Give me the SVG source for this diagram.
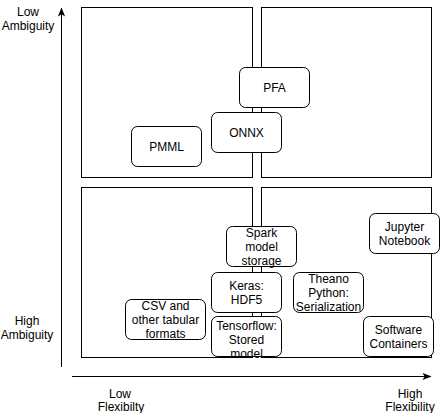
<svg xmlns="http://www.w3.org/2000/svg" width="440" height="413" viewBox="0 0 440 413">
<defs>
<style>
.q{fill:#fff;stroke:#000;stroke-width:1}
.b{fill:#fff;stroke:#000;stroke-width:1}
.ax{stroke:#000;stroke-width:1;fill:none}
text{font-family:"Liberation Sans",Arial,sans-serif;font-size:12px;fill:#000;text-anchor:middle}
</style>
<marker id="ah" viewBox="0 0 10 8" refX="9.5" refY="4" markerWidth="9" markerHeight="8" markerUnits="userSpaceOnUse" orient="auto">
<path d="M10,4 L0,0 L2.5,4 L0,8 Z" fill="#000"/>
</marker>
</defs>
<rect width="440" height="413" fill="#fff"/>
<g id="quadrants">
<rect class="q" x="81.5" y="7.5" width="171" height="170"/>
<rect class="q" x="261.5" y="7.5" width="170" height="170"/>
<rect class="q" x="81.5" y="187.5" width="171" height="170"/>
<rect class="q" x="261.5" y="187.5" width="170" height="170"/>
</g>
<g id="connectors">
<line class="ax" x1="61.5" y1="367" x2="61.5" y2="8" marker-end="url(#ah)"/>
<line class="ax" x1="72" y1="376.5" x2="431" y2="376.5" marker-end="url(#ah)"/>
</g>
<g id="axis-labels">
<text x="28" y="15.5">Low</text>
<text x="28" y="29.5">Ambiguity</text>
<text x="27" y="325">High</text>
<text x="27" y="339">Ambiguity</text>
<text x="120" y="397.5">Low</text>
<text x="121" y="411">Flexibilty</text>
<text x="410" y="397.5">High</text>
<text x="410" y="411">Flexibility</text>
</g>
<g id="pfa"><rect class="b" x="239.5" y="67.5" width="70" height="40" rx="6"/><text x="274.5" y="91.5">PFA</text></g>
<g id="onnx"><rect class="b" x="211.5" y="112.5" width="70" height="40" rx="6"/><text x="246.5" y="136.5">ONNX</text></g>
<g id="pmml"><rect class="b" x="131.5" y="126.5" width="70" height="40" rx="6"/><text x="166.5" y="150.5">PMML</text></g>
<g id="spark"><rect class="b" x="226.5" y="226.5" width="70" height="40" rx="6"/><text x="261.5" y="236.5">Spark</text><text x="261.5" y="250.5">model</text><text x="261.5" y="264.5">storage</text></g>
<g id="keras"><rect class="b" x="211.5" y="272.5" width="70" height="40" rx="6"/><text x="246.5" y="289.5">Keras:</text><text x="246.5" y="303.5">HDF5</text></g>
<g id="tensorflow"><rect class="b" x="211.5" y="316.5" width="70" height="40" rx="6"/><text x="246.5" y="329.5">Tensorflow:</text><text x="246.5" y="343.5">Stored</text><text x="246.5" y="357.5">model</text></g>
<g id="theano"><rect class="b" x="293.5" y="272.5" width="70" height="40" rx="6"/><text x="328.5" y="282.5">Theano</text><text x="328.5" y="296.5">Python:</text><text x="328.5" y="310.5">Serialization</text></g>
<g id="csv"><rect class="b" x="125.5" y="299.5" width="80" height="40" rx="6"/><text x="165.5" y="309.5">CSV and</text><text x="165.5" y="323.5">other tabular</text><text x="165.5" y="337.5">formats</text></g>
<g id="jupyter"><rect class="b" x="369.5" y="213.5" width="70" height="40" rx="6"/><text x="404.5" y="230.5">Jupyter</text><text x="404.5" y="244.5">Notebook</text></g>
<g id="containers"><rect class="b" x="363.5" y="316.5" width="70" height="40" rx="6"/><text x="398.5" y="333.5">Software</text><text x="398.5" y="347.5">Containers</text></g>
</svg>
